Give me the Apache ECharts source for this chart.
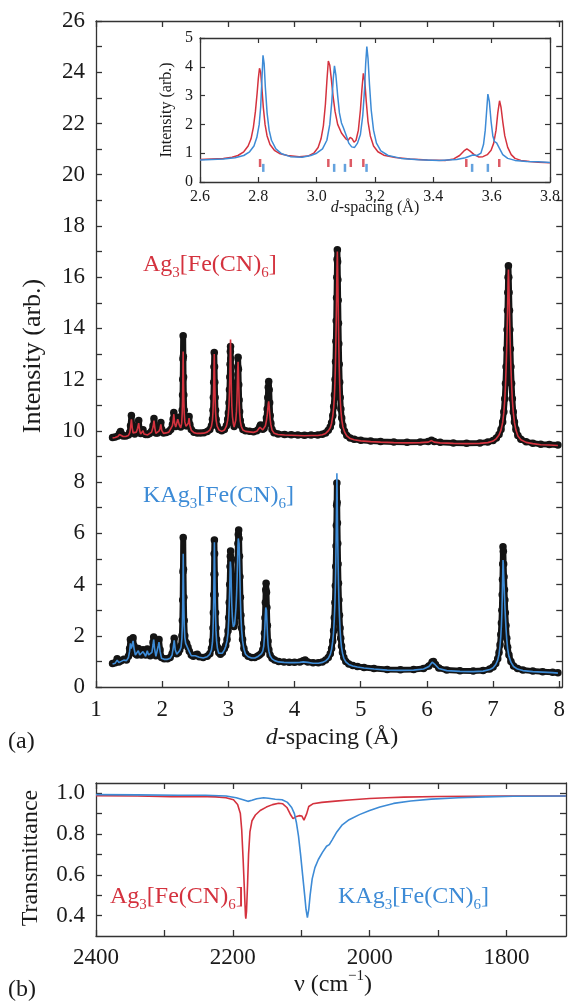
<!DOCTYPE html>
<html><head><meta charset="utf-8">
<script src="https://cdn.jsdelivr.net/npm/echarts@6/dist/echarts.min.js"></script>
<style>html,body{margin:0;padding:0;background:#fff}#c{width:568px;height:1001px}</style>
</head><body><div id="c"></div>
<script>
// ---------- DATA ----------
// Ag3[Fe(CN)6] (offset): [d-spacing, observed, fit]
const agRows = [
[1.25,9.74,9.72],[1.29,9.76,9.74],[1.33,9.8,9.78],[1.355,9.9,9.86],[1.37,9.97,9.92],[1.385,9.88,9.85],[1.41,9.8,9.78],[1.45,9.8,9.78],[1.49,9.84,9.82],[1.51,9.95,9.92],[1.522,10.2,10.12],[1.535,10.6,10.45],[1.548,10.2,10.12],[1.56,9.95,9.92],[1.585,9.88,9.86],[1.61,9.98,9.95],[1.628,10.15,10.1],[1.645,10.4,10.3],[1.66,10.05,10.0],[1.675,9.9,9.88],[1.70,9.98,9.95],[1.71,10.04,10.0],[1.725,9.9,9.88],[1.75,9.86,9.84],[1.78,9.86,9.84],[1.81,9.9,9.88],[1.84,9.98,9.95],[1.862,10.2,10.15],[1.876,10.48,10.4],[1.89,10.15,10.1],[1.905,9.92,9.9],[1.93,9.92,9.9],[1.955,10.02,10.0],[1.968,10.15,10.1],[1.98,10.33,10.25],[1.993,10.05,10.02],[2.02,9.92,9.9],[2.06,9.94,9.92],[2.10,9.97,9.95],[2.13,10.05,10.02],[2.155,10.25,10.2],[2.166,10.45,10.4],[2.176,10.72,10.65],[2.188,10.35,10.3],[2.205,10.17,10.15],[2.22,10.25,10.22],[2.235,10.5,10.45],[2.245,10.53,10.48],[2.26,10.25,10.22],[2.28,10.15,10.12],[2.295,10.35,10.3],[2.303,10.8,10.7],[2.308,11.4,11.2],[2.311,12.0,11.8],[2.314,12.8,12.5],[2.317,13.71,13.1],[2.32,12.9,12.4],[2.323,12.1,11.8],[2.327,11.4,11.2],[2.333,10.8,10.7],[2.342,10.4,10.35],[2.36,10.2,10.18],[2.38,10.2,10.18],[2.395,10.35,10.3],[2.406,10.56,10.5],[2.418,10.25,10.22],[2.44,10.05,10.02],[2.48,9.95,9.93],[2.53,9.92,9.9],[2.58,9.92,9.9],[2.63,9.93,9.91],[2.68,9.97,9.95],[2.72,10.05,10.03],[2.745,10.2,10.18],[2.76,10.45,10.42],[2.768,10.8,10.75],[2.774,11.3,11.25],[2.779,11.9,11.85],[2.783,12.5,12.45],[2.787,13.06,13.0],[2.791,12.5,12.45],[2.795,11.9,11.85],[2.8,11.3,11.25],[2.806,10.8,10.75],[2.815,10.45,10.42],[2.83,10.2,10.18],[2.86,10.05,10.03],[2.9,10.0,9.98],[2.94,10.05,10.03],[2.97,10.2,10.18],[2.99,10.45,10.42],[3.0,10.7,10.65],[3.01,11.1,11.05],[3.017,11.6,11.55],[3.022,12.1,12.1],[3.026,12.6,12.7],[3.03,13.1,13.2],[3.033,13.29,13.57],[3.037,12.8,12.9],[3.041,12.2,12.2],[3.046,11.6,11.55],[3.053,11.0,10.95],[3.062,10.6,10.55],[3.075,10.3,10.28],[3.087,10.17,10.15],[3.1,10.25,10.22],[3.112,10.45,10.42],[3.122,10.8,10.75],[3.13,11.3,11.25],[3.136,11.9,11.85],[3.141,12.5,12.4],[3.147,12.87,12.7],[3.152,12.4,12.3],[3.157,11.8,11.75],[3.163,11.2,11.15],[3.17,10.75,10.72],[3.18,10.4,10.38],[3.195,10.2,10.18],[3.22,10.05,10.03],[3.26,10.0,9.98],[3.32,9.98,9.96],[3.38,9.96,9.94],[3.43,10.0,9.98],[3.46,10.07,10.05],[3.477,10.17,10.14],[3.487,10.23,10.2],[3.5,10.15,10.12],[3.52,10.06,10.04],[3.54,10.1,10.08],[3.56,10.25,10.2],[3.575,10.5,10.4],[3.587,10.85,10.6],[3.596,11.3,10.85],[3.603,11.7,11.05],[3.61,11.93,11.15],[3.617,11.6,10.95],[3.624,11.1,10.7],[3.632,10.6,10.45],[3.642,10.3,10.25],[3.66,10.05,10.03],[3.69,9.93,9.91],[3.75,9.88,9.86],[3.85,9.86,9.84],[3.95,9.85,9.83],[4.05,9.84,9.82],[4.15,9.83,9.81],[4.25,9.84,9.82],[4.35,9.84,9.82],[4.42,9.87,9.85],[4.47,9.92,9.9],[4.51,10.02,10.0],[4.54,10.15,10.12],[4.56,10.32,10.3],[4.578,10.6,10.58],[4.592,10.95,10.92],[4.603,11.4,11.38],[4.612,12.0,12.0],[4.619,12.7,12.7],[4.625,13.5,13.5],[4.63,14.3,14.3],[4.635,15.2,15.2],[4.639,16.0,16.0],[4.643,16.7,16.6],[4.647,17.07,17.0],[4.651,16.6,16.5],[4.655,15.9,15.8],[4.659,15.1,15.0],[4.664,14.2,14.1],[4.669,13.4,13.3],[4.675,12.6,12.5],[4.682,11.9,11.85],[4.69,11.3,11.25],[4.7,10.85,10.8],[4.713,10.5,10.45],[4.73,10.2,10.17],[4.755,9.98,9.96],[4.79,9.82,9.8],[4.84,9.72,9.7],[4.9,9.67,9.65],[5.0,9.63,9.61],[5.15,9.6,9.58],[5.3,9.58,9.56],[5.5,9.56,9.54],[5.7,9.55,9.53],[5.9,9.56,9.54],[6.02,9.58,9.56],[6.07,9.63,9.62],[6.11,9.58,9.56],[6.2,9.55,9.53],[6.4,9.53,9.51],[6.6,9.52,9.5],[6.8,9.53,9.51],[6.92,9.56,9.54],[7.0,9.62,9.6],[7.05,9.72,9.7],[7.09,9.86,9.84],[7.12,10.05,10.03],[7.145,10.35,10.33],[7.163,10.75,10.73],[7.177,11.25,11.22],[7.188,11.85,11.8],[7.197,12.5,12.45],[7.205,13.2,13.15],[7.212,13.95,13.9],[7.218,14.7,14.6],[7.223,15.4,15.3],[7.227,16.0,15.9],[7.232,16.45,16.3],[7.237,16.0,15.9],[7.242,15.4,15.3],[7.248,14.7,14.6],[7.254,13.95,13.9],[7.262,13.2,13.15],[7.27,12.5,12.45],[7.28,11.85,11.8],[7.291,11.25,11.22],[7.305,10.75,10.73],[7.323,10.35,10.33],[7.345,10.05,10.03],[7.375,9.82,9.8],[7.42,9.67,9.65],[7.5,9.57,9.55],[7.6,9.52,9.5],[7.72,9.48,9.46],[7.85,9.47,9.45],[7.98,9.45,9.43]
];
// KAg3[Fe(CN)6]: [d-spacing, observed, fit]
const kRows = [
[1.25,0.92,0.9],[1.29,0.95,0.93],[1.32,1.1,1.05],[1.345,0.98,0.96],[1.38,1.02,1.0],[1.42,1.08,1.05],[1.46,1.05,1.03],[1.49,1.2,1.15],[1.508,1.5,1.4],[1.52,1.85,1.7],[1.532,1.6,1.5],[1.545,1.7,1.6],[1.56,1.92,1.8],[1.575,1.6,1.5],[1.595,1.3,1.25],[1.62,1.25,1.2],[1.64,1.5,1.42],[1.66,1.3,1.25],[1.685,1.25,1.2],[1.71,1.45,1.38],[1.73,1.35,1.3],[1.75,1.25,1.2],[1.775,1.48,1.42],[1.795,1.3,1.25],[1.82,1.22,1.18],[1.845,1.4,1.35],[1.862,1.75,1.65],[1.872,1.95,1.85],[1.885,1.6,1.5],[1.905,1.22,1.2],[1.925,1.3,1.25],[1.94,1.7,1.6],[1.952,1.85,1.75],[1.968,1.45,1.4],[1.99,1.15,1.12],[2.03,1.1,1.08],[2.08,1.1,1.08],[2.12,1.15,1.12],[2.15,1.3,1.25],[2.168,1.6,1.55],[2.182,1.9,1.82],[2.197,1.5,1.45],[2.22,1.3,1.28],[2.245,1.35,1.3],[2.265,1.45,1.42],[2.285,1.6,1.55],[2.298,2.0,1.9],[2.305,2.6,2.4],[2.31,3.4,3.1],[2.314,4.5,4.1],[2.318,5.84,5.2],[2.322,4.6,4.2],[2.327,3.5,3.2],[2.333,2.6,2.45],[2.342,2.0,1.95],[2.355,1.75,1.7],[2.37,1.7,1.68],[2.39,1.55,1.5],[2.41,1.4,1.38],[2.44,1.25,1.22],[2.47,1.2,1.18],[2.5,1.25,1.22],[2.53,1.28,1.25],[2.56,1.18,1.16],[2.62,1.15,1.13],[2.68,1.2,1.18],[2.72,1.3,1.28],[2.745,1.5,1.45],[2.76,1.8,1.75],[2.768,2.3,2.2],[2.774,2.9,2.8],[2.779,3.6,3.5],[2.783,4.4,4.3],[2.786,5.2,5.1],[2.789,5.74,5.65],[2.792,5.2,5.1],[2.796,4.4,4.3],[2.8,3.6,3.5],[2.806,2.9,2.8],[2.813,2.3,2.2],[2.822,1.85,1.8],[2.835,1.55,1.5],[2.855,1.35,1.32],[2.88,1.28,1.25],[2.91,1.35,1.32],[2.94,1.5,1.45],[2.96,1.62,1.58],[2.98,1.85,1.8],[2.995,2.2,2.1],[3.005,2.7,2.6],[3.013,3.3,3.2],[3.02,4.0,3.8],[3.026,4.7,4.5],[3.03,5.1,4.9],[3.034,5.31,4.95],[3.039,4.9,4.6],[3.045,4.1,3.9],[3.052,3.3,3.2],[3.06,2.8,2.75],[3.068,2.55,2.5],[3.076,2.4,2.35],[3.085,2.36,2.33],[3.095,2.5,2.45],[3.105,2.8,2.75],[3.115,3.2,3.1],[3.124,3.7,3.6],[3.132,4.3,4.2],[3.139,5.0,4.9],[3.145,5.6,5.5],[3.15,5.95,5.8],[3.156,6.13,5.87],[3.162,5.8,5.6],[3.168,5.1,5.0],[3.175,4.3,4.2],[3.182,3.5,3.4],[3.19,2.8,2.75],[3.2,2.3,2.25],[3.215,1.85,1.8],[3.235,1.5,1.48],[3.26,1.3,1.28],[3.3,1.2,1.18],[3.35,1.15,1.13],[3.4,1.15,1.13],[3.44,1.2,1.18],[3.47,1.25,1.22],[3.5,1.32,1.3],[3.52,1.45,1.4],[3.535,1.7,1.6],[3.545,2.1,1.95],[3.553,2.7,2.4],[3.559,3.3,2.8],[3.565,3.8,3.1],[3.57,4.05,3.15],[3.576,3.7,3.0],[3.582,3.1,2.6],[3.59,2.4,2.1],[3.6,1.8,1.65],[3.612,1.45,1.4],[3.63,1.25,1.22],[3.66,1.12,1.1],[3.7,1.05,1.03],[3.76,1.0,0.98],[3.84,0.98,0.96],[3.92,0.97,0.95],[4.0,0.97,0.95],[4.08,0.98,0.96],[4.13,1.02,0.98],[4.16,1.05,1.0],[4.2,0.98,0.96],[4.28,0.95,0.93],[4.36,0.95,0.93],[4.42,0.98,0.96],[4.47,1.05,1.02],[4.51,1.15,1.12],[4.54,1.3,1.27],[4.56,1.5,1.47],[4.577,1.8,1.78],[4.59,2.2,2.15],[4.601,2.7,2.65],[4.61,3.3,3.25],[4.617,3.95,3.95],[4.623,4.7,4.75],[4.628,5.5,5.6],[4.632,6.3,6.5],[4.636,7.1,7.4],[4.64,7.96,8.34],[4.644,7.2,7.5],[4.648,6.4,6.6],[4.653,5.6,5.7],[4.658,4.8,4.85],[4.664,4.05,4.05],[4.671,3.4,3.35],[4.679,2.8,2.75],[4.688,2.3,2.25],[4.698,1.9,1.85],[4.71,1.6,1.55],[4.725,1.35,1.32],[4.745,1.15,1.12],[4.775,1.0,0.98],[4.82,0.9,0.88],[4.88,0.84,0.82],[4.95,0.8,0.78],[5.05,0.76,0.74],[5.2,0.72,0.7],[5.4,0.68,0.66],[5.6,0.67,0.65],[5.8,0.68,0.66],[5.95,0.72,0.7],[6.03,0.82,0.8],[6.08,0.98,0.97],[6.1,1.0,0.99],[6.13,0.88,0.86],[6.18,0.74,0.72],[6.3,0.66,0.64],[6.5,0.63,0.61],[6.7,0.62,0.6],[6.85,0.64,0.62],[6.95,0.7,0.68],[7.0,0.78,0.75],[7.04,0.92,0.88],[7.07,1.1,1.05],[7.09,1.35,1.28],[7.105,1.65,1.6],[7.117,2.05,1.98],[7.126,2.5,2.4],[7.133,3.0,2.9],[7.138,3.6,3.4],[7.142,4.2,3.9],[7.146,4.8,4.4],[7.15,5.48,4.96],[7.155,5.3,4.8],[7.16,4.8,4.4],[7.166,4.3,4.0],[7.172,3.8,3.6],[7.178,3.4,3.2],[7.185,2.9,2.8],[7.195,2.4,2.3],[7.207,1.9,1.85],[7.22,1.55,1.5],[7.24,1.25,1.2],[7.27,1.0,0.97],[7.31,0.82,0.8],[7.37,0.72,0.7],[7.45,0.66,0.64],[7.6,0.62,0.6],[7.75,0.6,0.58],[7.9,0.58,0.56],[7.98,0.56,0.54]
];
// Inset curves: [d, intensity]
const insetAg = [[2.60,0.78],[2.64,0.8],[2.68,0.82],[2.71,0.86],[2.73,0.92],[2.75,1.05],[2.765,1.25],[2.775,1.5],[2.783,1.9],[2.79,2.45],[2.796,3.1],[2.8,3.6],[2.804,3.95],[2.808,3.8],[2.812,3.3],[2.817,2.6],[2.823,2.0],[2.83,1.6],[2.84,1.3],[2.855,1.1],[2.875,0.98],[2.9,0.92],[2.94,0.88],[2.97,0.9],[2.99,1.0],[3.005,1.2],[3.015,1.5],[3.023,1.95],[3.03,2.7],[3.035,3.5],[3.04,4.2],[3.045,4.05],[3.05,3.6],[3.056,3.0],[3.063,2.45],[3.072,2.0],[3.085,1.7],[3.1,1.5],[3.108,1.45],[3.115,1.55],[3.122,1.5],[3.128,1.38],[3.135,1.45],[3.143,1.8],[3.15,2.5],[3.155,3.2],[3.16,3.77],[3.165,3.5],[3.17,2.8],[3.176,2.1],[3.184,1.6],[3.195,1.25],[3.21,1.05],[3.23,0.93],[3.27,0.85],[3.32,0.8],[3.38,0.76],[3.44,0.75],[3.47,0.8],[3.49,0.92],[3.505,1.08],[3.515,1.15],[3.525,1.08],[3.54,0.95],[3.555,0.87],[3.57,0.88],[3.585,0.95],[3.598,1.1],[3.607,1.35],[3.615,1.8],[3.621,2.4],[3.627,2.82],[3.632,2.6],[3.638,2.1],[3.645,1.6],[3.655,1.2],[3.667,0.95],[3.68,0.82],[3.7,0.75],[3.73,0.71],[3.76,0.69],[3.8,0.67]];
const insetK = [[2.60,0.76],[2.64,0.78],[2.68,0.8],[2.72,0.84],[2.75,0.92],[2.77,1.05],[2.785,1.25],[2.795,1.55],[2.803,2.0],[2.808,2.6],[2.812,3.5],[2.816,4.4],[2.82,4.1],[2.824,3.3],[2.83,2.4],[2.837,1.8],[2.845,1.45],[2.86,1.15],[2.88,0.98],[2.91,0.88],[2.95,0.86],[2.98,0.92],[3.0,1.0],[3.02,1.15],[3.035,1.45],[3.045,2.0],[3.052,2.8],[3.057,3.6],[3.061,4.03],[3.066,3.7],[3.072,3.0],[3.078,2.4],[3.085,2.05],[3.091,1.9],[3.096,1.86],[3.102,1.6],[3.11,1.35],[3.12,1.22],[3.13,1.2],[3.14,1.35],[3.15,1.65],[3.158,2.3],[3.164,3.2],[3.168,4.1],[3.172,4.7],[3.176,4.3],[3.181,3.4],[3.187,2.5],[3.195,1.8],[3.205,1.35],[3.22,1.08],[3.245,0.92],[3.29,0.82],[3.35,0.77],[3.42,0.75],[3.48,0.78],[3.51,0.84],[3.535,0.94],[3.55,0.92],[3.563,1.0],[3.572,1.3],[3.578,1.8],[3.583,2.5],[3.587,3.05],[3.592,2.8],[3.598,2.1],[3.604,1.6],[3.61,1.4],[3.617,1.36],[3.625,1.2],[3.638,0.95],[3.655,0.82],[3.68,0.75],[3.72,0.71],[3.76,0.7],[3.8,0.68]];
// Inset reflection markers (d positions)
const tickAg = [2.806, 3.040, 3.117, 3.160, 3.513, 3.626];
const tickK  = [2.817, 3.060, 3.097, 3.171, 3.533, 3.587];
// IR transmittance: [wavenumber, T]
const irAg = [[2400,0.988],[2340,0.986],[2290,0.983],[2250,0.984],[2225,0.982],[2210,0.978],[2199,0.968],[2193,0.945],[2189,0.9],[2187,0.82],[2185,0.68],[2183,0.52],[2181.5,0.4],[2181,0.385],[2180,0.42],[2178.5,0.55],[2177,0.7],[2175,0.81],[2172,0.865],[2167,0.893],[2160,0.915],[2151,0.932],[2142,0.944],[2133,0.951],[2127,0.948],[2121,0.93],[2116,0.897],[2112,0.875],[2108,0.884],[2103,0.89],[2099,0.888],[2096,0.868],[2094,0.864],[2092,0.9],[2089,0.935],[2083,0.948],[2070,0.955],[2050,0.961],[2030,0.967],[2000,0.974],[1975,0.978],[1950,0.981],[1900,0.984],[1850,0.985],[1800,0.986],[1713,0.986]];
const irK = [[2400,0.993],[2340,0.992],[2280,0.99],[2240,0.99],[2210,0.986],[2195,0.978],[2185,0.968],[2178,0.96],[2172,0.965],[2165,0.973],[2155,0.978],[2148,0.975],[2138,0.97],[2128,0.968],[2120,0.955],[2114,0.93],[2110,0.9],[2107,0.855],[2104,0.79],[2101,0.7],[2098,0.6],[2095,0.5],[2093,0.43],[2091,0.39],[2089,0.43],[2087,0.5],[2084,0.58],[2080,0.635],[2075,0.675],[2069,0.71],[2063,0.74],[2059,0.748],[2055,0.77],[2048,0.81],[2040,0.845],[2030,0.87],[2015,0.895],[2000,0.915],[1985,0.932],[1965,0.95],[1940,0.962],[1910,0.971],[1870,0.978],[1830,0.982],[1790,0.985],[1713,0.986]];
// Tick positions / labels
const mainXTicks = [1,2,3,4,5,6,7,8];
const mainYTicks = [0,1,2,3,4,5,6,7,8,9,10,11,12,13,14,15,16,17,18,19,20,21,22,23,24,25,26];
const mainYLabels = [0,2,4,6,8,10,12,14,16,18,20,22,24,26];
const insetXTicks = [2.6,2.8,3.0,3.2,3.4,3.6,3.8];
const insetYTicks = [0,1,2,3,4,5];
const irXTicks = [2400,2300,2200,2100,2000,1900,1800];
const irXLabels = [2400,2200,2000,1800];
const irYTicks = [0.4,0.5,0.6,0.7,0.8,0.9,1.0];
const irYLabels = [0.4,0.6,0.8,1.0];

// ---------- STYLE ----------
const FONT = "'Liberation Serif', 'Times New Roman', serif";
const RED = '#d4323e', BLUE = '#3d8bd6', DOT = '#141414', AXC = '#333';

function axis(gridIndex, pos, min, max, ticks, labels, fs, margin, fmt, extra) {
  return Object.assign({
    type: 'value', gridIndex, position: pos, min, max,
    axisLine: {show: true, onZero: false, lineStyle: {color: AXC, width: 1.3}},
    axisTick: {show: true, inside: true, length: 6, customValues: ticks, lineStyle: {color: AXC, width: 1.3}},
    axisLabel: labels ? {show: true, customValues: labels, fontFamily: FONT, fontSize: fs, color: '#1a1a1a', margin, formatter: fmt || (v => String(v))} : {show: false},
    splitLine: {show: false}
  }, extra || {});
}
const f1 = v => Number(v).toFixed(1);

function chemText(prefix, color, x, y) {
  return {type: 'text', x, y, silent: true, style: {
    text: '{n|' + prefix + 'Ag}{s|3}{n|[Fe(CN)}{s|6}{n|]}',
    align: 'left', verticalAlign: 'middle',
    rich: {
      n: {fontFamily: FONT, fontSize: 24, fill: color, lineHeight: 32, verticalAlign: 'middle'},
      s: {fontFamily: FONT, fontSize: 15, fill: color, verticalAlign: 'bottom'}
    }
  }};
}
function plainText(text, x, y, fs, rot, rich) {
  const st = {text, align: 'center', verticalAlign: 'middle', fontFamily: FONT, fontSize: fs, fill: '#1a1a1a'};
  if (rich) st.rich = rich;
  const o = {type: 'text', x, y, silent: true, style: st};
  if (rot) o.rotation = rot;
  return o;
}
const dRich = fs => ({
  i: {fontFamily: FONT, fontSize: fs, fontStyle: 'italic', fill: '#1a1a1a'},
  n: {fontFamily: FONT, fontSize: fs, fill: '#1a1a1a'}
});

const chart = echarts.init(document.getElementById('c'), null, {renderer: 'canvas'});
chart.setOption({
  animation: false,
  backgroundColor: '#fff',
  grid: [
    {left: 96, top: 21, width: 470, height: 666},
    {left: 200, top: 38, width: 350, height: 144},
    {left: 96, top: 783, width: 470, height: 153}
  ],
  xAxis: [
    axis(0, 'bottom', 1, 8.045, mainXTicks, mainXTicks, 23, 11),
    axis(0, 'top', 1, 8.045, mainXTicks, null),
    axis(1, 'bottom', 2.6, 3.8, insetXTicks, insetXTicks, 16, 7, f1, {axisTick: {show: true, inside: true, length: 5, customValues: insetXTicks, lineStyle: {color: AXC, width: 1.2}}}),
    axis(1, 'top', 2.6, 3.8, insetXTicks, null, 16, 7, null, {axisTick: {show: true, inside: true, length: 5, customValues: insetXTicks, lineStyle: {color: AXC, width: 1.2}}}),
    axis(2, 'bottom', 1713, 2400, irXTicks, irXLabels, 23, 10, null, {inverse: true}),
    axis(2, 'top', 1713, 2400, irXTicks, null, 23, 10, null, {inverse: true})
  ],
  yAxis: [
    axis(0, 'left', 0, 26, mainYTicks, mainYLabels, 23, 11),
    axis(0, 'right', 0, 26, mainYTicks, null),
    axis(1, 'left', 0, 5, insetYTicks, insetYTicks, 16, 7, null, {axisTick: {show: true, inside: true, length: 5, customValues: insetYTicks, lineStyle: {color: AXC, width: 1.2}}}),
    axis(1, 'right', 0, 5, insetYTicks, null, 16, 7, null, {axisTick: {show: true, inside: true, length: 5, customValues: insetYTicks, lineStyle: {color: AXC, width: 1.2}}}),
    axis(2, 'left', 0.3, 1.05, irYTicks, irYLabels, 23, 11, f1),
    axis(2, 'right', 0.3, 1.05, irYTicks, null)
  ],
  series: [
    {type: 'line', xAxisIndex: 0, yAxisIndex: 0, data: agRows.map(r => [r[0], r[1]]), symbol: 'circle', symbolSize: 7.5, showSymbol: true, itemStyle: {color: DOT}, lineStyle: {color: DOT, width: 6}, z: 2, silent: true},
    {type: 'line', xAxisIndex: 0, yAxisIndex: 0, data: agRows.map(r => [r[0], r[2]]), showSymbol: false, symbol: 'none', lineStyle: {color: RED, width: 1.6}, z: 3, silent: true},
    {type: 'line', xAxisIndex: 0, yAxisIndex: 0, data: kRows.map(r => [r[0], r[1]]), symbol: 'circle', symbolSize: 7.5, showSymbol: true, itemStyle: {color: DOT}, lineStyle: {color: DOT, width: 6}, z: 2, silent: true},
    {type: 'line', xAxisIndex: 0, yAxisIndex: 0, data: kRows.map(r => [r[0], r[2]]), showSymbol: false, symbol: 'none', lineStyle: {color: BLUE, width: 1.6}, z: 3, silent: true},
    {type: 'line', xAxisIndex: 2, yAxisIndex: 2, data: insetAg, showSymbol: false, symbol: 'none', lineStyle: {color: RED, width: 1.5}, z: 3, silent: true},
    {type: 'line', xAxisIndex: 2, yAxisIndex: 2, data: insetK, showSymbol: false, symbol: 'none', lineStyle: {color: BLUE, width: 1.5}, z: 4, silent: true},
    {type: 'scatter', xAxisIndex: 2, yAxisIndex: 2, data: tickAg.map(d => [d, 0.66]), symbol: 'rect', symbolSize: [2.5, 8], itemStyle: {color: RED}, z: 4, silent: true},
    {type: 'scatter', xAxisIndex: 2, yAxisIndex: 2, data: tickK.map(d => [d, 0.49]), symbol: 'rect', symbolSize: [2.5, 8], itemStyle: {color: BLUE}, z: 4, silent: true},
    {type: 'line', xAxisIndex: 4, yAxisIndex: 4, data: irAg, showSymbol: false, symbol: 'none', lineStyle: {color: RED, width: 1.6}, z: 3, silent: true},
    {type: 'line', xAxisIndex: 4, yAxisIndex: 4, data: irK, showSymbol: false, symbol: 'none', lineStyle: {color: BLUE, width: 1.6}, z: 3, silent: true}
  ],
  graphic: [
    plainText('Intensity (arb.)', 33, 356, 26, Math.PI / 2),
    plainText('{i|d}{n|-spacing (Å)}', 332, 738, 24, 0, dRich(24)),
    {type: 'text', x: 8, y: 742, silent: true, style: {text: '(a)', align: 'left', verticalAlign: 'middle', fontFamily: FONT, fontSize: 24, fill: '#1a1a1a'}},
    plainText('Intensity (arb.)', 167, 110, 16, Math.PI / 2),
    plainText('{i|d}{n|-spacing (Å)}', 375, 208, 16, 0, dRich(16)),
    plainText('Transmittance', 31, 858, 24, Math.PI / 2),
    plainText('{n|ν (cm}{s|−1}{n|)}', 333, 985, 24, 0, {
      n: {fontFamily: FONT, fontSize: 24, fill: '#1a1a1a', lineHeight: 32, verticalAlign: 'middle'},
      s: {fontFamily: FONT, fontSize: 15, fill: '#1a1a1a', verticalAlign: 'top'}
    }),
    {type: 'text', x: 8, y: 990, silent: true, style: {text: '(b)', align: 'left', verticalAlign: 'middle', fontFamily: FONT, fontSize: 24, fill: '#1a1a1a'}},
    chemText('', RED, 143, 265),
    chemText('K', BLUE, 143, 496),
    chemText('', RED, 110, 897),
    chemText('K', BLUE, 338, 897)
  ]
});
</script></body></html>
